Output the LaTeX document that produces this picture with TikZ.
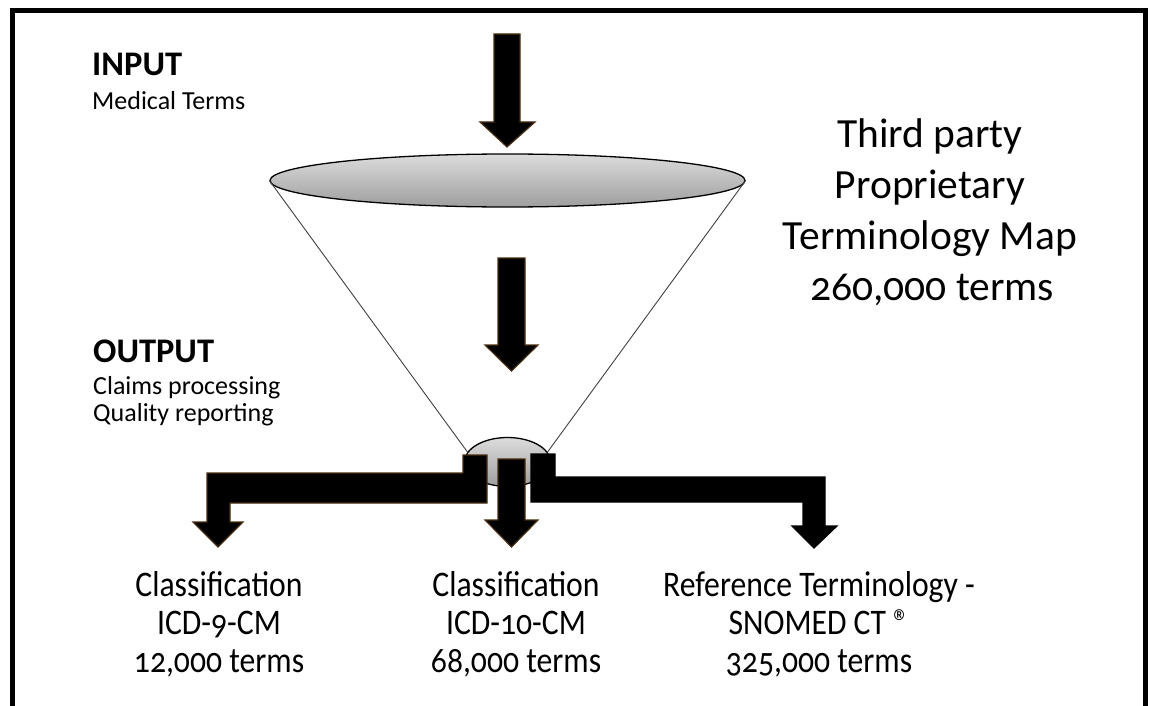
\documentclass[tikz,border=0pt]{standalone}
\usepackage{fontspec}
\setmainfont{Carlito}[Numbers=OldStyle]
\newfontfamily\narrowfont{Carlito}[Numbers=OldStyle,FakeStretch=0.88]
\usetikzlibrary{shapes.geometric}

\definecolor{arrowedge}{RGB}{72,46,16}
\definecolor{shadetop}{RGB}{220,220,220}
\definecolor{shadebottom}{RGB}{158,158,158}

\tikzset{
  frameline/.style={line width=5pt, line join=miter},
  disc/.style={ellipse, draw=black, line width=1.3pt, inner sep=0pt,
               top color=shadetop, bottom color=shadebottom},
  coneline/.style={draw=black!75, line width=0.9pt},
  blockarrow/.style={fill=black, draw=arrowedge, line width=1.2pt, line join=miter},
  headtxt/.style={font=\fontsize{34.5}{40}\selectfont\bfseries, anchor=base west, inner sep=0pt},
  subtxt/.style={font=\fontsize{26}{30}\selectfont, anchor=base west, inner sep=0pt},
  maptxt/.style={font=\fontsize{41.5}{50}\selectfont, anchor=base, inner sep=0pt},
  codetxt/.style={font=\narrowfont\fontsize{36}{40}\selectfont, anchor=base, inner sep=0pt}
}

\begin{document}
\begin{tikzpicture}[x=1pt, y=-1pt]
\useasboundingbox (0,0) rectangle (1151,706);

% open frame: top edge and the two sides
\draw[frameline] (12,706) -- (12,11) -- (1145,11) -- (1145,706);

% funnel: wide mouth, narrow spout and the two side lines
\node[disc, minimum width=475pt, minimum height=53pt] (funnel) at (507.5,180.5) {};
\node[disc, minimum width=86pt, minimum height=49pt] (spout) at (507.5,462) {};
\draw[coneline] (funnel.west) -- (spout.166);
\draw[coneline] (funnel.east) -- (spout.14);

% arrow into the funnel
\draw[blockarrow] (494,34) -- (520,34) -- (520,122) -- (535,122) -- (507,147)
  -- (480,122) -- (494,122) -- cycle;
% arrow inside the funnel
\draw[blockarrow] (498,258) -- (525,258) -- (525,345) -- (538,345) -- (511.5,371)
  -- (485,345) -- (498,345) -- cycle;

% left branch
\draw[blockarrow] (207,473) -- (463,473) -- (463,455) -- (487,455) -- (487,503)
  -- (230,503) -- (230,522) -- (243,522) -- (218,547) -- (193,522) -- (207,522) -- cycle;
% centre branch
\draw[blockarrow] (498,459) -- (525,459) -- (525,520) -- (538,520) -- (511.5,547)
  -- (485,520) -- (498,520) -- cycle;
% right branch
\draw[blockarrow, draw=black] (531,454) -- (555,454) -- (555,477) -- (825,477) -- (825,526)
  -- (837,526) -- (814,548) -- (792,526) -- (803,526) -- (803,502) -- (531,502) -- cycle;

% input / output labels
\node[headtxt] (inhead) at (92,76) {INPUT};
\node[subtxt] (insub) at (92,110) {Medical Terms};
\node[headtxt] (outhead) at (93,362) {OUTPUT};
\node[subtxt] (outsubA) at (93,394) {Claims processing};
\node[subtxt] (outsubB) at (93,421) {Quality reporting};

% map description
\node[maptxt] (mapA) at (930,147) {Third party};
\node[maptxt] (mapB) at (930,198) {Proprietary};
\node[maptxt] (mapC) at (930,249) {Terminology Map};
\node[maptxt] (mapD) at (932,300) {260,000 terms};

% target code systems
\node[codetxt] (icd9a) at (219,596) {Classification};
\node[codetxt] (icd9b) at (219,634) {ICD-9-CM};
\node[codetxt] (icd9c) at (219,672) {12,000 terms};

\node[codetxt] (icd10a) at (516,596) {Classification};
\node[codetxt] (icd10b) at (516,634) {ICD-10-CM};
\node[codetxt] (icd10c) at (516,672) {68,000 terms};

\node[codetxt] (snoA) at (819,596) {Reference Terminology -};
\node[codetxt] (snoB) at (819,634) {SNOMED CT ®};
\node[codetxt] (snoC) at (819,672) {325,000 terms};
\end{tikzpicture}
\end{document}
